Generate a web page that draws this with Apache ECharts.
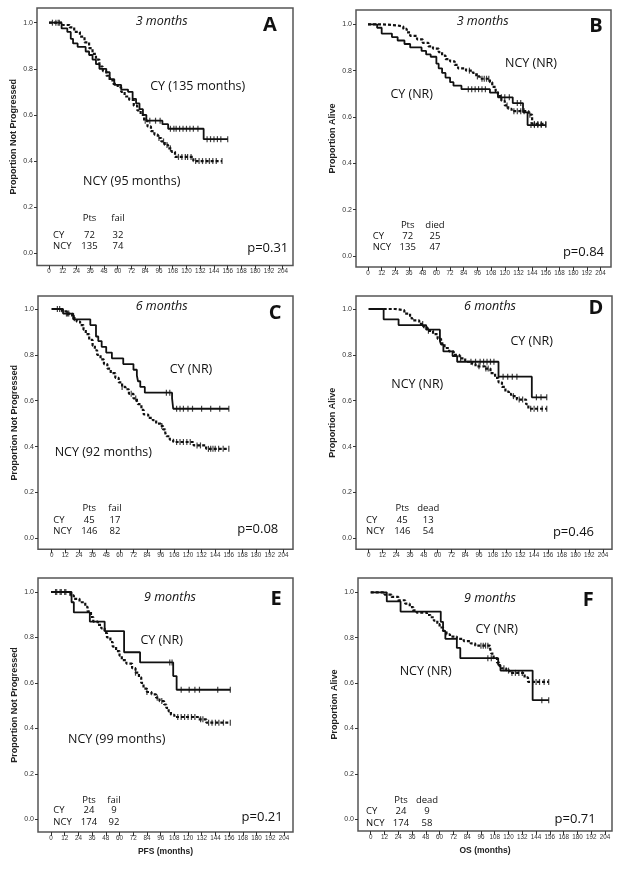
<!DOCTYPE html>
<html>
<head>
<meta charset="utf-8">
<script src="https://cdn.jsdelivr.net/npm/echarts@6/dist/echarts.min.js"></script>
<style>
html,body{margin:0;padding:0;background:#fff;}
#chart{width:621px;height:869px;}
</style>
</head>
<body>
<div id="chart"></div>
<script>
// ---------- tick labels ----------
const xTickLabels = [0,12,24,36,48,60,72,84,96,108,120,132,144,156,168,180,192,204];
const yTickLabels = [0,0.2,0.4,0.6,0.8,1.0];

// ---------- Panel A (PFS, 3 months) ----------
const cyA = [[0,1],[11,0.975],[16,0.96],[19,0.93],[21,0.91],[25,0.895],[32,0.875],[35,0.86],[38,0.84],[41,0.82],[44,0.80],[50,0.785],[53,0.755],[57,0.73],[63,0.71],[69,0.70],[73,0.67],[76,0.65],[79,0.625],[82,0.60],[85,0.575],[99,0.56],[104,0.54],[135,0.495],[156,0.495]];
const cyCensA = [[6,1],[8,1],[88,0.575],[93,0.575],[97,0.575],[106,0.54],[109,0.54],[111,0.54],[114,0.54],[117,0.54],[120,0.54],[123,0.54],[126,0.54],[130,0.54],[138,0.495],[141,0.495],[144,0.495],[147,0.495],[150,0.495],[156,0.495]];
const ncyA = [[0,1],[12,0.99],[18,0.98],[22,0.96],[27,0.94],[31,0.915],[35,0.89],[38,0.865],[41,0.84],[44,0.81],[47,0.79],[50,0.77],[53,0.75],[56,0.735],[60,0.72],[63,0.70],[66,0.68],[70,0.665],[74,0.64],[77,0.62],[80,0.60],[83,0.575],[86,0.55],[89,0.53],[92,0.515],[95,0.50],[98,0.485],[101,0.47],[104,0.455],[107,0.44],[110,0.418],[126,0.40],[151,0.40]];
const ncyCensA = [[3,1],[9,1],[84,0.575],[96,0.50],[100,0.485],[103,0.47],[106,0.455],[113,0.418],[116,0.418],[119,0.418],[121,0.418],[124,0.418],[128,0.40],[131,0.40],[134,0.40],[137,0.40],[140,0.40],[143,0.40],[146,0.40],[151,0.40]];
const ptsA = [72,135], evA = [32,74];

// ---------- Panel B (OS, 3 months) ----------
const cyB = [[0,1],[8,0.985],[12,0.96],[21,0.945],[26,0.93],[32,0.915],[37,0.90],[47,0.885],[51,0.87],[55,0.86],[60,0.83],[62,0.81],[65,0.79],[68,0.77],[72,0.75],[75,0.735],[82,0.72],[107,0.705],[114,0.685],[127,0.66],[136,0.62],[140,0.565],[156,0.565]];
const cyCensB = [[88,0.72],[91,0.72],[94,0.72],[97,0.72],[100,0.72],[103,0.72],[117,0.685],[120,0.685],[124,0.685],[131,0.66],[134,0.66],[143,0.565],[146,0.565],[149,0.565],[152,0.565],[156,0.565]];
const ncyB = [[0,1],[13,0.995],[26,0.99],[31,0.98],[34,0.965],[37,0.95],[43,0.935],[48,0.92],[53,0.905],[57,0.895],[62,0.88],[65,0.865],[68,0.85],[72,0.84],[76,0.825],[79,0.81],[86,0.80],[92,0.79],[95,0.775],[98,0.765],[107,0.75],[109,0.73],[112,0.71],[114,0.69],[117,0.67],[120,0.65],[123,0.635],[126,0.625],[141,0.61],[144,0.57],[156,0.57]];
const ncyCensB = [[89,0.80],[96,0.775],[100,0.765],[102,0.765],[104,0.765],[106,0.765],[122,0.65],[128,0.625],[131,0.625],[134,0.625],[137,0.625],[142,0.61],[146,0.57],[149,0.57],[152,0.57],[156,0.57]];
const ptsB = [72,135], evB = [25,47];

// ---------- Panel C (PFS, 6 months) ----------
const cyC = [[0,1],[10,0.98],[19,0.955],[34,0.93],[39,0.88],[41,0.86],[44,0.835],[48,0.81],[53,0.785],[63,0.76],[72,0.735],[75,0.71],[76,0.685],[78,0.66],[82,0.635],[106,0.61],[107,0.565],[156,0.565]];
const cyCensC = [[13,0.98],[15,0.98],[101,0.635],[104,0.635],[110,0.565],[113,0.565],[116,0.565],[120,0.565],[124,0.565],[132,0.565],[140,0.565],[148,0.565],[156,0.565]];
const ncyC = [[0,1],[9,0.99],[13,0.98],[18,0.96],[22,0.945],[25,0.93],[28,0.91],[30,0.89],[33,0.865],[36,0.84],[38,0.82],[40,0.80],[43,0.78],[46,0.76],[49,0.74],[52,0.72],[56,0.70],[59,0.68],[62,0.66],[65,0.65],[68,0.63],[72,0.61],[75,0.60],[76,0.585],[79,0.56],[81,0.54],[85,0.525],[89,0.515],[92,0.50],[96,0.49],[98,0.475],[100,0.46],[101,0.445],[104,0.43],[107,0.42],[125,0.405],[136,0.39],[156,0.39]];
const ncyCensC = [[5,1],[7,1],[14,0.98],[20,0.96],[62,0.66],[70,0.63],[74,0.61],[97,0.49],[110,0.42],[113,0.42],[116,0.42],[119,0.42],[122,0.42],[128,0.405],[131,0.405],[138,0.39],[140,0.39],[142,0.39],[144,0.39],[147,0.39],[151,0.39],[156,0.39]];
const ptsC = [45,146], evC = [17,82];

// ---------- Panel D (OS, 6 months) ----------
const cyD = [[0,1],[13,0.955],[26,0.93],[50,0.91],[62,0.86],[63,0.845],[65,0.815],[73,0.795],[77,0.77],[113,0.705],[142,0.615],[155,0.615]];
const cyCensD = [[89,0.77],[93,0.77],[97,0.77],[100,0.77],[103,0.77],[106,0.77],[109,0.77],[117,0.705],[121,0.705],[125,0.705],[129,0.705],[146,0.615],[150,0.615],[155,0.615]];
const ncyD = [[0,1],[23,0.995],[31,0.98],[36,0.96],[38,0.95],[44,0.935],[48,0.92],[51,0.905],[56,0.89],[60,0.87],[63,0.85],[66,0.83],[70,0.815],[74,0.80],[79,0.785],[84,0.77],[90,0.76],[93,0.75],[101,0.74],[106,0.72],[110,0.70],[113,0.68],[116,0.66],[119,0.64],[122,0.63],[124,0.62],[129,0.605],[137,0.585],[139,0.565],[155,0.565]];
const ncyCensD = [[47,0.935],[52,0.905],[80,0.785],[96,0.75],[102,0.74],[104,0.74],[126,0.62],[131,0.605],[134,0.605],[141,0.565],[144,0.565],[147,0.565],[151,0.565],[155,0.565]];
const ptsD = [45,146], evD = [13,54];

// ---------- Panel E (PFS, 9 months) ----------
const cyE = [[0,1],[18,0.955],[20,0.91],[34,0.87],[47,0.828],[64,0.735],[78,0.69],[107,0.63],[110,0.57],[157,0.57]];
const cyCensE = [[4,1],[8,1],[12,1],[104,0.69],[106,0.69],[114,0.57],[121,0.57],[126,0.57],[130,0.57],[146,0.57],[157,0.57]];
const ncyE = [[0,1],[17,0.985],[20,0.97],[25,0.955],[30,0.935],[32,0.915],[35,0.89],[37,0.87],[41,0.855],[44,0.84],[47,0.82],[49,0.80],[52,0.78],[54,0.76],[57,0.74],[60,0.72],[62,0.70],[66,0.685],[71,0.665],[74,0.645],[77,0.625],[79,0.60],[81,0.575],[84,0.56],[88,0.55],[92,0.535],[95,0.52],[99,0.505],[101,0.49],[103,0.475],[105,0.46],[108,0.45],[129,0.44],[136,0.425],[157,0.425]];
const ncyCensE = [[5,1],[9,1],[13,1],[74,0.645],[84,0.56],[93,0.535],[97,0.52],[111,0.45],[114,0.45],[117,0.45],[120,0.45],[123,0.45],[126,0.45],[131,0.44],[133,0.44],[138,0.425],[141,0.425],[144,0.425],[147,0.425],[151,0.425],[157,0.425]];
const ptsE = [24,174], evE = [9,92];

// ---------- Panel F (OS, 9 months) ----------
const cyF = [[0,1],[14,0.96],[26,0.915],[61,0.87],[63,0.83],[65,0.795],[75,0.755],[78,0.71],[111,0.68],[113,0.655],[141,0.525],[155,0.525]];
const cyCensF = [[102,0.71],[105,0.71],[149,0.525],[155,0.525]];
const ncyF = [[0,1],[12,0.99],[18,0.98],[24,0.965],[30,0.95],[34,0.935],[37,0.92],[40,0.91],[49,0.90],[52,0.89],[55,0.875],[58,0.86],[60,0.845],[63,0.83],[66,0.815],[69,0.805],[75,0.795],[81,0.785],[87,0.775],[91,0.765],[104,0.75],[105,0.73],[107,0.71],[110,0.69],[112,0.675],[114,0.665],[118,0.655],[121,0.645],[134,0.625],[137,0.605],[155,0.605]];
const ncyCensF = [[96,0.765],[98,0.765],[100,0.765],[102,0.765],[116,0.665],[120,0.655],[123,0.645],[126,0.645],[129,0.645],[132,0.645],[141,0.605],[144,0.605],[147,0.605],[151,0.605],[155,0.605]];
const ptsF = [24,174], evF = [9,58];

// ---------- layout ----------
const panels = [
  {cy:cyA, cyC:cyCensA, ncy:ncyA, ncyC:ncyCensA, left:37, top:8, width:256, height:257.5, xMin:-10.47, xMax:212.99, yMin:-0.0529, yMax:1.0637, yName:'Proportion Not Progressed', xName:''},
  {cy:cyB, cyC:cyCensB, ncy:ncyB, ncyC:ncyCensB, left:356, top:10, width:255, height:257, xMin:-10.53, xMax:213.2, yMin:-0.0475, yMax:1.0617, yName:'Proportion Alive', xName:''},
  {cy:cyC, cyC:cyCensC, ncy:ncyC, ncyC:ncyCensC, left:38, top:296, width:255, height:253.3, xMin:-12.07, xMax:212.5, yMin:-0.048, yMax:1.0567, yName:'Proportion Not Progressed', xName:''},
  {cy:cyD, cyC:cyCensD, ncy:ncyD, ncyC:ncyCensD, left:356, top:296, width:256, height:253.3, xMin:-11.06, xMax:211.8, yMin:-0.048, yMax:1.0567, yName:'Proportion Alive', xName:''},
  {cy:cyE, cyC:cyCensE, ncy:ncyE, ncyC:ncyCensE, left:38, top:578, width:255, height:254, xMin:-11.38, xMax:211.9, yMin:-0.0559, yMax:1.0616, yName:'Proportion Not Progressed', xName:'PFS (months)'},
  {cy:cyF, cyC:cyCensF, ncy:ncyF, ncyC:ncyCensF, left:358, top:578, width:254, height:253, xMin:-11.06, xMax:210.1, yMin:-0.0515, yMax:1.063, yName:'Proportion Alive', xName:'OS (months)'}
];

const grids = [], xAxes = [], yAxes = [], series = [];
panels.forEach((p, i) => {
  grids.push({left:p.left, top:p.top, width:p.width, height:p.height, show:true, borderColor:'#555', borderWidth:1.5, backgroundColor:'transparent', containLabel:false, outerBoundsMode:'none'});
  xAxes.push({
    type:'value', gridIndex:i, min:p.xMin, max:p.xMax, position:'bottom',
    axisLine:{show:false, onZero:false}, splitLine:{show:false},
    axisTick:{show:true, length:4, customValues:xTickLabels, lineStyle:{color:'#333', width:1}},
    axisLabel:{show:true, customValues:xTickLabels, fontSize:6.3, color:'#333', margin:3, fontFamily:'Liberation Sans', formatter:v=>String(v)},
    name:p.xName, nameLocation:'middle', nameGap:15,
    nameTextStyle:{fontSize:8.5, fontWeight:'bold', color:'#222', fontFamily:'Liberation Sans'}
  });
  yAxes.push({
    type:'value', gridIndex:i, min:p.yMin, max:p.yMax, position:'left',
    axisLine:{show:false, onZero:false}, splitLine:{show:false},
    axisTick:{show:true, length:3, customValues:yTickLabels, lineStyle:{color:'#333', width:1}},
    axisLabel:{show:true, customValues:yTickLabels, fontSize:7, color:'#333', margin:4, fontFamily:'Liberation Sans', formatter:v=>v.toFixed(1)},
    name:p.yName, nameLocation:'middle', nameGap:19, nameRotate:90,
    nameTextStyle:{fontSize:9, fontWeight:'bold', color:'#222', fontFamily:'Liberation Sans'}
  });
  series.push({type:'line', xAxisIndex:i, yAxisIndex:i, data:p.cy, step:'end', showSymbol:false, silent:true,
    lineStyle:{color:'#111', width:1.8}});
  series.push({type:'line', xAxisIndex:i, yAxisIndex:i, data:p.ncy, step:'end', showSymbol:false, silent:true,
    lineStyle:{color:'#111', width:2.2, type:[3,2]}});
  series.push({type:'scatter', xAxisIndex:i, yAxisIndex:i, data:p.cyC, symbol:'rect', symbolSize:[1.2,6], silent:true,
    itemStyle:{color:'#111'}});
  series.push({type:'scatter', xAxisIndex:i, yAxisIndex:i, data:p.ncyC, symbol:'rect', symbolSize:[1.2,6], silent:true,
    itemStyle:{color:'#111'}});
});

// ---------- annotations ----------
const FONT = '"Open Sans", "Noto Sans", sans-serif';
function txt(x, y, text, size, opts) {
  opts = opts || {};
  return {type:'text', x:x, y:y, silent:true, z:100,
    style:{text:text, fontSize:size, fontFamily:FONT, fontStyle:opts.italic?'italic':'normal', fontWeight:opts.bold?'bold':'normal',
      fill:'#111', align:opts.align||'center', verticalAlign:'middle', textAlign:opts.align||'center', textVerticalAlign:'middle'}};
}
function table(xl, xPts, xEv, yH, y1, y2, evName, pts, ev) {
  return [
    txt(xPts, yH, 'Pts', 9.5), txt(xEv, yH, evName, 9.5),
    txt(xl, y1, 'CY', 9.5, {align:'left'}), txt(xPts, y1, String(pts[0]), 9.5), txt(xEv, y1, String(ev[0]), 9.5),
    txt(xl, y2, 'NCY', 9.5, {align:'left'}), txt(xPts, y2, String(pts[1]), 9.5), txt(xEv, y2, String(ev[1]), 9.5)
  ];
}
const graphics = [
  // A
  txt(161.7, 21.7, '3 months', 12.5, {italic:true}),
  txt(270, 25, 'A', 20, {bold:true}),
  txt(197.7, 86.7, 'CY (135 months)', 12.5),
  txt(131.7, 181.7, 'NCY (95 months)', 12.5),
  ...table(53, 89.5, 118, 218, 235.7, 246.7, 'fail', ptsA, evA),
  txt(288.3, 248.3, 'p=0.31', 13, {align:'right'}),
  // B
  txt(482.7, 21.7, '3 months', 12.5, {italic:true}),
  txt(596, 26.7, 'B', 20, {bold:true}),
  txt(531, 63.3, 'NCY (NR)', 12.5),
  txt(411.7, 94.3, 'CY (NR)', 12.5),
  ...table(372.7, 407.7, 435, 225.3, 236.7, 247.3, 'died', ptsB, evB),
  txt(604, 252.3, 'p=0.84', 13, {align:'right'}),
  // C
  txt(161.7, 306.7, '6 months', 12.5, {italic:true}),
  txt(275, 313.3, 'C', 20, {bold:true}),
  txt(191, 369, 'CY (NR)', 12.5),
  txt(103.3, 452.7, 'NCY (92 months)', 12.5),
  ...table(53.3, 89.3, 115, 508.3, 520, 531, 'fail', ptsC, evC),
  txt(278.3, 529.3, 'p=0.08', 13, {align:'right'}),
  // D
  txt(490, 306.7, '6 months', 12.5, {italic:true}),
  txt(596, 308.3, 'D', 20, {bold:true}),
  txt(531.7, 341.7, 'CY (NR)', 12.5),
  txt(417.3, 384.3, 'NCY (NR)', 12.5),
  ...table(366, 402.3, 428.3, 508.3, 520, 531, 'dead', ptsD, evD),
  txt(594, 532.7, 'p=0.46', 13, {align:'right'}),
  // E
  txt(170, 597.7, '9 months', 12.5, {italic:true}),
  txt(276, 599, 'E', 20, {bold:true}),
  txt(161.7, 640.7, 'CY (NR)', 12.5),
  txt(116.7, 739.3, 'NCY (99 months)', 12.5),
  ...table(53.3, 89, 114, 800, 810.7, 822.5, 'fail', ptsE, evE),
  txt(282.7, 817.3, 'p=0.21', 13, {align:'right'}),
  // F
  txt(490, 598.3, '9 months', 12.5, {italic:true}),
  txt(588.3, 600, 'F', 20, {bold:true}),
  txt(496.7, 629, 'CY (NR)', 12.5),
  txt(425.7, 671.7, 'NCY (NR)', 12.5),
  ...table(366, 401, 427, 800, 811.5, 823.3, 'dead', ptsF, evF),
  txt(595.7, 819.3, 'p=0.71', 13, {align:'right'})
];

const chart = echarts.init(document.getElementById('chart'), null, {renderer:'canvas'});
chart.setOption({
  animation:false,
  backgroundColor:'#fff',
  grid:grids, xAxis:xAxes, yAxis:yAxes, series:series,
  graphic:graphics
});
</script>
</body>
</html>
